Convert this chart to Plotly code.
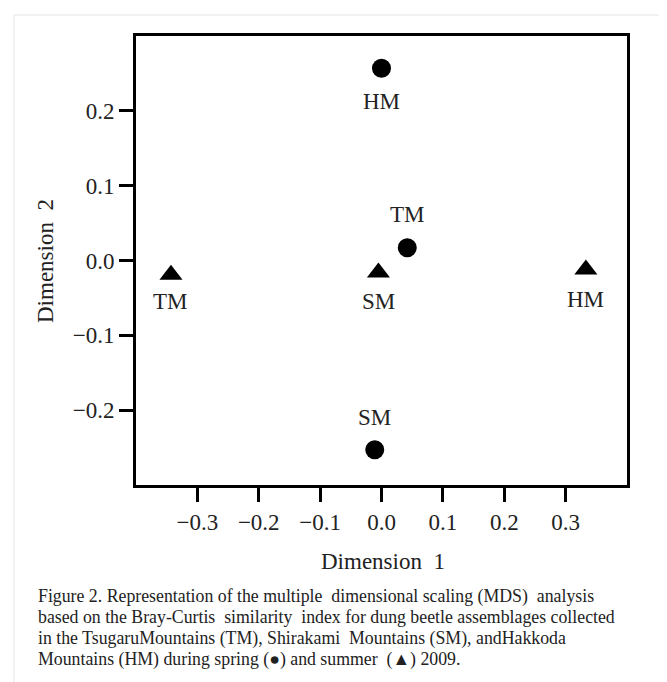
import plotly.graph_objects as go

# ---- data ----
spring_sites = ["HM", "TM", "SM"]
spring_dim1 = [0.000, 0.042, -0.011]
spring_dim2 = [0.257, 0.017, -0.253]

summer_sites = ["TM", "SM", "HM"]
summer_dim1 = [-0.343, -0.005, 0.333]
summer_dim2 = [-0.019, -0.016, -0.012]

x_ticks = [-0.3, -0.2, -0.1, 0.0, 0.1, 0.2, 0.3]
y_ticks = [-0.2, -0.1, 0.0, 0.1, 0.2]

caption_lines = [
    "Figure 2. Representation of the multiple\u00a0 dimensional scaling (MDS)\u00a0 analysis",
    "based on the Bray-Curtis\u00a0 similarity\u00a0 index for dung beetle assemblages collected",
    "in the TsugaruMountains (TM), Shirakami\u00a0 Mountains (SM), andHakkoda",
    "Mountains (HM) during spring (\u25cf) and summer\u00a0 (\u25b2) 2009.",
]

# ---- layout geometry ----
W, H = 667, 682
L, R, T, B = 128, 619, 28, 477


def paper_x(px):
    return (px - L) / (R - L)


def paper_y(py):
    return (B - py) / (B - T)


FONT = "Liberation Serif, Times New Roman, serif"

fig = go.Figure()
fig.add_trace(go.Scatter(
    x=spring_dim1, y=spring_dim2, mode="markers", name="spring",
    marker=dict(symbol="circle", size=19, color="black"),
    hoverinfo="skip",
))
fig.add_trace(go.Scatter(
    x=summer_dim1, y=summer_dim2, mode="markers", name="summer",
    marker=dict(symbol="triangle-up", size=20, color="black"),
    hoverinfo="skip",
))

annotations = []
spring_shift = [-33, 33, 32]
for s, x, y, sh in zip(spring_sites, spring_dim1, spring_dim2, spring_shift):
    annotations.append(dict(x=x, y=y, xref="x", yref="y", text=s, showarrow=False,
                            yshift=sh, font=dict(family=FONT, size=23, color="#222")))
summer_shift = [-27, -29, -30]
for s, x, y, sh in zip(summer_sites, summer_dim1, summer_dim2, summer_shift):
    annotations.append(dict(x=x, y=y, xref="x", yref="y", text=s, showarrow=False,
                            yshift=sh, font=dict(family=FONT, size=23, color="#222")))

# axis titles
annotations.append(dict(x=paper_x(375), y=paper_y(553), xref="paper", yref="paper",
                        text="Dimension\u00a0 1", showarrow=False, xanchor="center", yanchor="middle",
                        font=dict(family=FONT, size=23, color="#222")))
annotations.append(dict(x=paper_x(37), y=paper_y(253), xref="paper", yref="paper",
                        text="Dimension\u00a0 2", showarrow=False, textangle=-90,
                        xanchor="center", yanchor="middle",
                        font=dict(family=FONT, size=23, color="#222")))

caption_y = [588, 609, 630, 651]
for line, py in zip(caption_lines, caption_y):
    annotations.append(dict(x=paper_x(28), y=paper_y(py), xref="paper", yref="paper",
                            text=line, showarrow=False, xanchor="left", yanchor="middle",
                            font=dict(family=FONT, size=17.8, color="#222")))

fig.update_layout(
    width=W, height=H,
    margin=dict(l=L, r=W - R, t=T, b=H - B, pad=0),
    paper_bgcolor="white", plot_bgcolor="white",
    showlegend=False,
    annotations=annotations,
    shapes=[dict(type="rect", xref="paper", yref="paper",
                 x0=paper_x(6), x1=paper_x(659), y0=paper_y(7), y1=paper_y(677),
                 line=dict(color="#e4e4e4", width=1), layer="below")],
)

axis_common = dict(
    showgrid=False, zeroline=False, showline=True, linecolor="black", linewidth=3,
    mirror=True, ticks="outside", ticklen=14, tickwidth=2.5, tickcolor="black",
    tickfont=dict(family=FONT, size=23, color="#222"), tickformat=".1f",
)
fig.update_xaxes(range=[-0.4, 0.4], tickvals=x_ticks, **axis_common)
fig.update_yaxes(range=[-0.3, 0.3], tickvals=y_ticks, **axis_common)

fig.write_html("out.html")
